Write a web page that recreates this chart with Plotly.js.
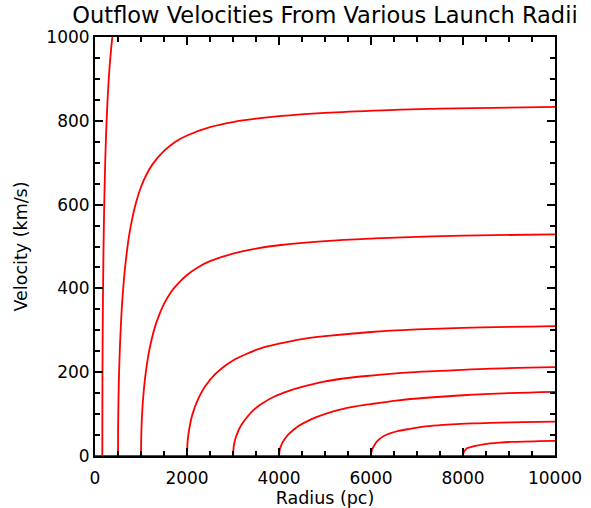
<!DOCTYPE html>
<html>
<head>
<meta charset="utf-8">
<script src="https://cdn.plot.ly/plotly-3.0.1.min.js"></script>
<style>
  html, body { margin: 0; padding: 0; background: #fff; }
  #chart { width: 591px; height: 508px; }
</style>
</head>
<body>
<div id="chart"></div>
<script>
// Outflow velocity profiles (km/s) against radius (pc), one curve per launch radius.
const launchRadii = [159, 500, 1000, 2000, 3000, 4000, 6000, 8000];

const r159  = [159, 159.8, 160.6, 162.2, 164.6, 167, 170.9, 174.9, 182.9, 190.8, 206.7, 222.6, 238.5, 262.4, 286.2, 318, 357.8, 397.5];
const v159  = [0, 93, 131, 184, 242, 287, 347, 396, 475, 537, 632, 703, 759, 825, 877, 930, 980, 1019];

const r500  = [500, 502.5, 505, 510, 517.5, 525, 537.5, 550, 575, 600, 650, 700, 750, 825, 900, 1000, 1125, 1250, 1500, 1750, 2000, 2500, 3000, 3500, 4000, 5000, 6250, 7500, 10000];
const v500  = [0, 66, 94, 132, 173, 205, 248, 282, 338, 381, 446, 494, 532, 575, 608, 642, 673, 696, 728, 750, 765, 785, 797, 805, 811, 819, 825, 829, 833];

const r1000 = [1000, 1005, 1010, 1020, 1035, 1050, 1075, 1100, 1150, 1200, 1300, 1400, 1500, 1650, 1800, 2000, 2250, 2500, 3000, 3500, 4000, 5000, 6000, 7000, 8000, 10000];
const v1000 = [0, 46, 65, 92, 121, 143, 172, 196, 234, 263, 307, 338, 363, 391, 411, 432, 451, 465, 483, 495, 503, 513, 519, 523, 526, 529];

const r2000 = [2000, 2010, 2020, 2040, 2070, 2100, 2150, 2200, 2300, 2400, 2600, 2800, 3000, 3300, 3600, 4000, 4500, 5000, 6000, 7000, 8000, 10000];
const v2000 = [0, 30, 42, 59, 77, 92, 110, 125, 149, 167, 194, 213, 228, 244, 257, 268, 279, 286, 296, 302, 306, 310];

const r3000 = [3000, 3015, 3030, 3060, 3105, 3150, 3225, 3300, 3450, 3600, 3900, 4200, 4500, 4950, 5400, 6000, 6750, 7500, 8500, 10000];
const v3000 = [0, 22, 31, 44, 57, 68, 81, 92, 110, 123, 142, 155, 165, 177, 185, 192, 199, 203, 208, 212];

const r4000 = [4000, 4020, 4040, 4080, 4140, 4200, 4300, 4400, 4600, 4800, 5200, 5600, 6000, 6600, 7200, 8000, 9000, 10000];
const v4000 = [0, 17, 23, 33, 43, 51, 61, 70, 82, 92, 107, 117, 124, 133, 139, 145, 150, 153];

const r6000 = [6000, 6010, 6030, 6060, 6123, 6200, 6300, 6413, 6600, 6850, 7137, 7500, 7863, 8200, 8587, 9300, 10000];
const v6000 = [0, 10, 17, 23, 34, 42, 49, 54, 60, 65, 70, 73.5, 76, 77.8, 79, 81, 82];

const r8000 = [8000, 8010, 8030, 8060, 8100, 8188, 8300, 8450, 8587, 8800, 9050, 9311, 9650, 10000];
const v8000 = [0, 7, 12, 16, 19, 22, 25, 28, 30, 32, 33.5, 34.5, 35.3, 36];

// Before launch every profile sits at zero velocity along the radius axis.
const baseR = [0, 10000];
const baseV = [0, 0];

const xTicks = [0, 2000, 4000, 6000, 8000, 10000];
const yTicks = [0, 200, 400, 600, 800, 1000];

const curves = [
  [r159, v159], [r500, v500], [r1000, v1000], [r2000, v2000],
  [r3000, v3000], [r4000, v4000], [r6000, v6000], [r8000, v8000]
];

const red = '#ff0000';
const traces = [{
  x: baseR, y: baseV, mode: 'lines', hoverinfo: 'skip',
  line: { color: red, width: 1.8 }
}];
curves.forEach(([r, v], i) => {
  traces.push({
    x: r, y: v, mode: 'lines', name: launchRadii[i] + ' pc',
    line: { color: red, width: 1.8, shape: 'spline', smoothing: 1 }
  });
});

const font = { family: 'DejaVu Sans, sans-serif', color: '#000' };

const layout = {
  width: 591, height: 508,
  margin: { l: 95, r: 36, t: 37, b: 52 },
  paper_bgcolor: '#fff', plot_bgcolor: '#fff',
  showlegend: false,
  title: {
    text: 'Outflow Velocities From Various Launch Radii',
    font: Object.assign({ size: 22.5 }, font),
    x: 0.5, xref: 'paper', xanchor: 'center',
    y: 0.97, yref: 'container', yanchor: 'middle'
  },
  xaxis: {
    range: [0, 10000], tickvals: xTicks, ticktext: xTicks.map(String),
    ticks: 'inside', ticklen: 8, tickwidth: 2, tickcolor: '#000',
    minor: { dtick: 500, ticks: 'inside', ticklen: 5, tickwidth: 2, tickcolor: '#000' },
    showline: true, linecolor: '#000', linewidth: 2, mirror: 'ticks',
    showgrid: false, zeroline: false,
    ticklabelstandoff: 6,
    tickfont: Object.assign({ size: 17 }, font),
    title: { text: 'Radius (pc)', font: Object.assign({ size: 17.5 }, font), standoff: 4 }
  },
  yaxis: {
    range: [0, 1000], tickvals: yTicks, ticktext: yTicks.map(String),
    ticks: 'inside', ticklen: 8, tickwidth: 2, tickcolor: '#000',
    minor: { dtick: 50, ticks: 'inside', ticklen: 5, tickwidth: 2, tickcolor: '#000' },
    showline: true, linecolor: '#000', linewidth: 2, mirror: 'ticks',
    showgrid: false, zeroline: false,
    tickfont: Object.assign({ size: 17 }, font),
    title: { text: 'Velocity (km/s)', font: Object.assign({ size: 17.5 }, font), standoff: 14 }
  }
};

Plotly.newPlot('chart', traces, layout, { displayModeBar: false, staticPlot: true });
</script>
</body>
</html>
